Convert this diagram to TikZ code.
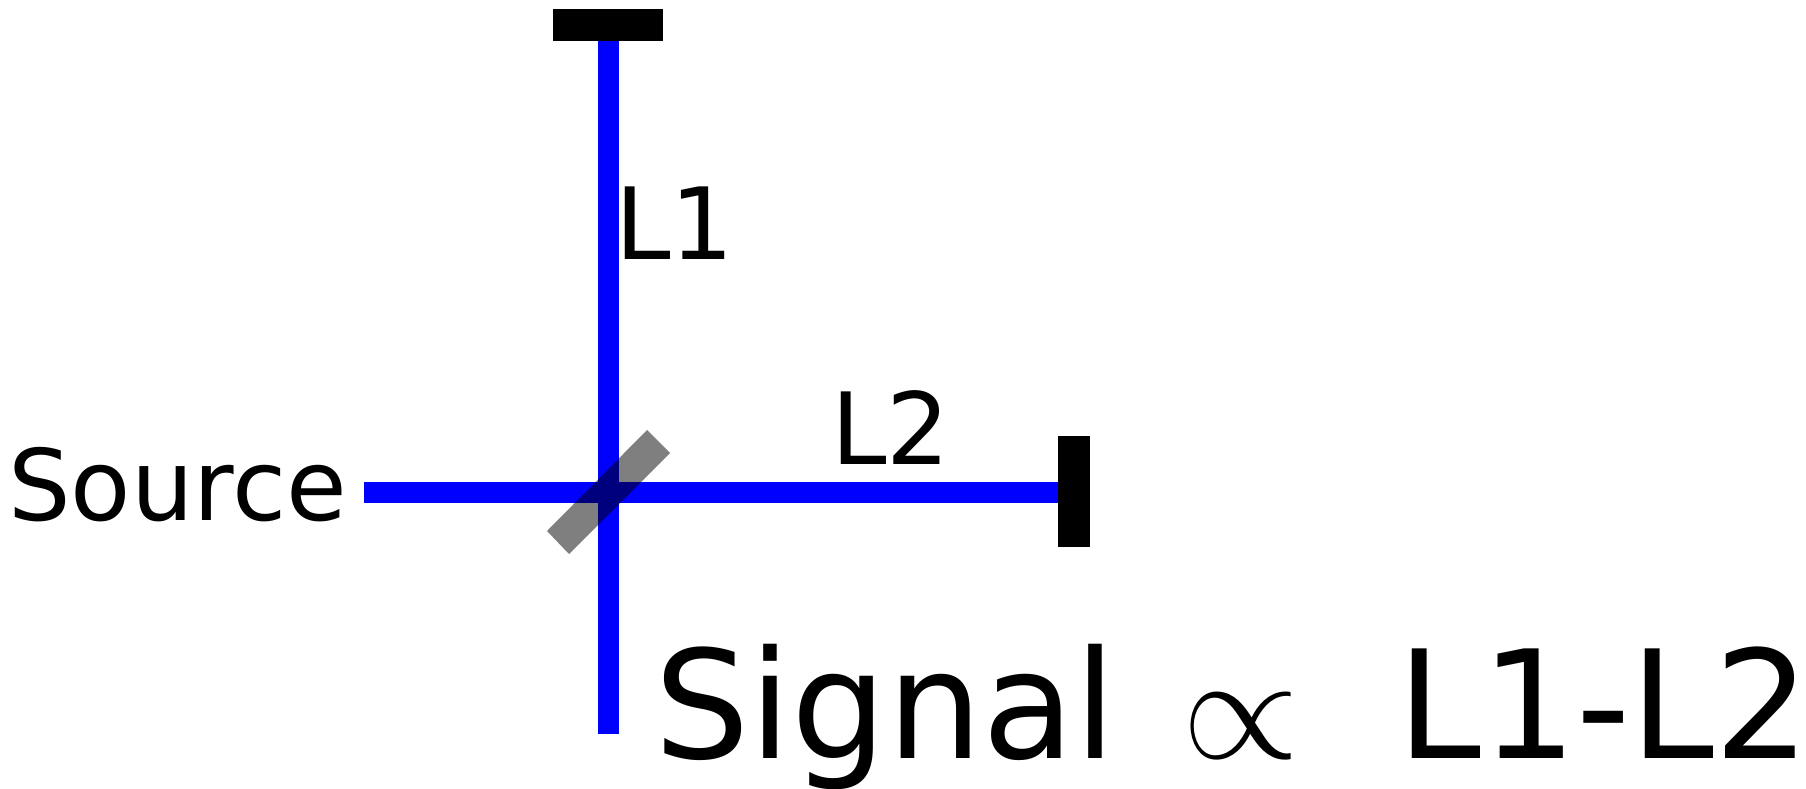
\documentclass[tikz,border=0pt]{standalone}
\usepackage{fontspec}
\setmainfont{DejaVu Sans}
\tikzset{beam/.style={draw=blue,line width=21bp,line cap=butt},
lbl/.style={inner sep=0pt,anchor=base west,text=black},
small/.style={font=\fontsize{100}{100}\selectfont},
big/.style={font=\fontsize{151}{151}\selectfont},
sym/.style={anchor=base west,font=\fontspec{Latin Modern Math}\fontsize{151}{151}\selectfont}}
\begin{document}
\begin{tikzpicture}[x=1bp,y=-1bp]
\useasboundingbox (0,0) rectangle (1806,789);
\node[sym] (prop) at (1178.7,758) {∝};
\coordinate (top) at (608.5,41);
\coordinate (bot) at (608.5,734);
\coordinate (src) at (364,492);
\coordinate (end) at (1058,492);
\draw[beam] (top) -- (bot);
\draw[beam] (src) -- (end);
\fill[black] (553,9) rectangle (663,41);
\fill[black] (1058,436) rectangle (1090,547);
\fill[black,opacity=0.5] (547,531) -- (647,430) -- (670,453) -- (569,554) -- cycle;
\node[lbl,small] (l1) at (615,259) {L1};
\node[lbl,small] (l2) at (831,464) {L2};
\node[lbl,font=\fontsize{99}{99}\selectfont] (s) at (8,520) {Source};
\node[lbl,big] (sig) at (654,758) {Signal};
\node[lbl,big] (diff) at (1397,758) {L1-L2};
\end{tikzpicture}
\end{document}
